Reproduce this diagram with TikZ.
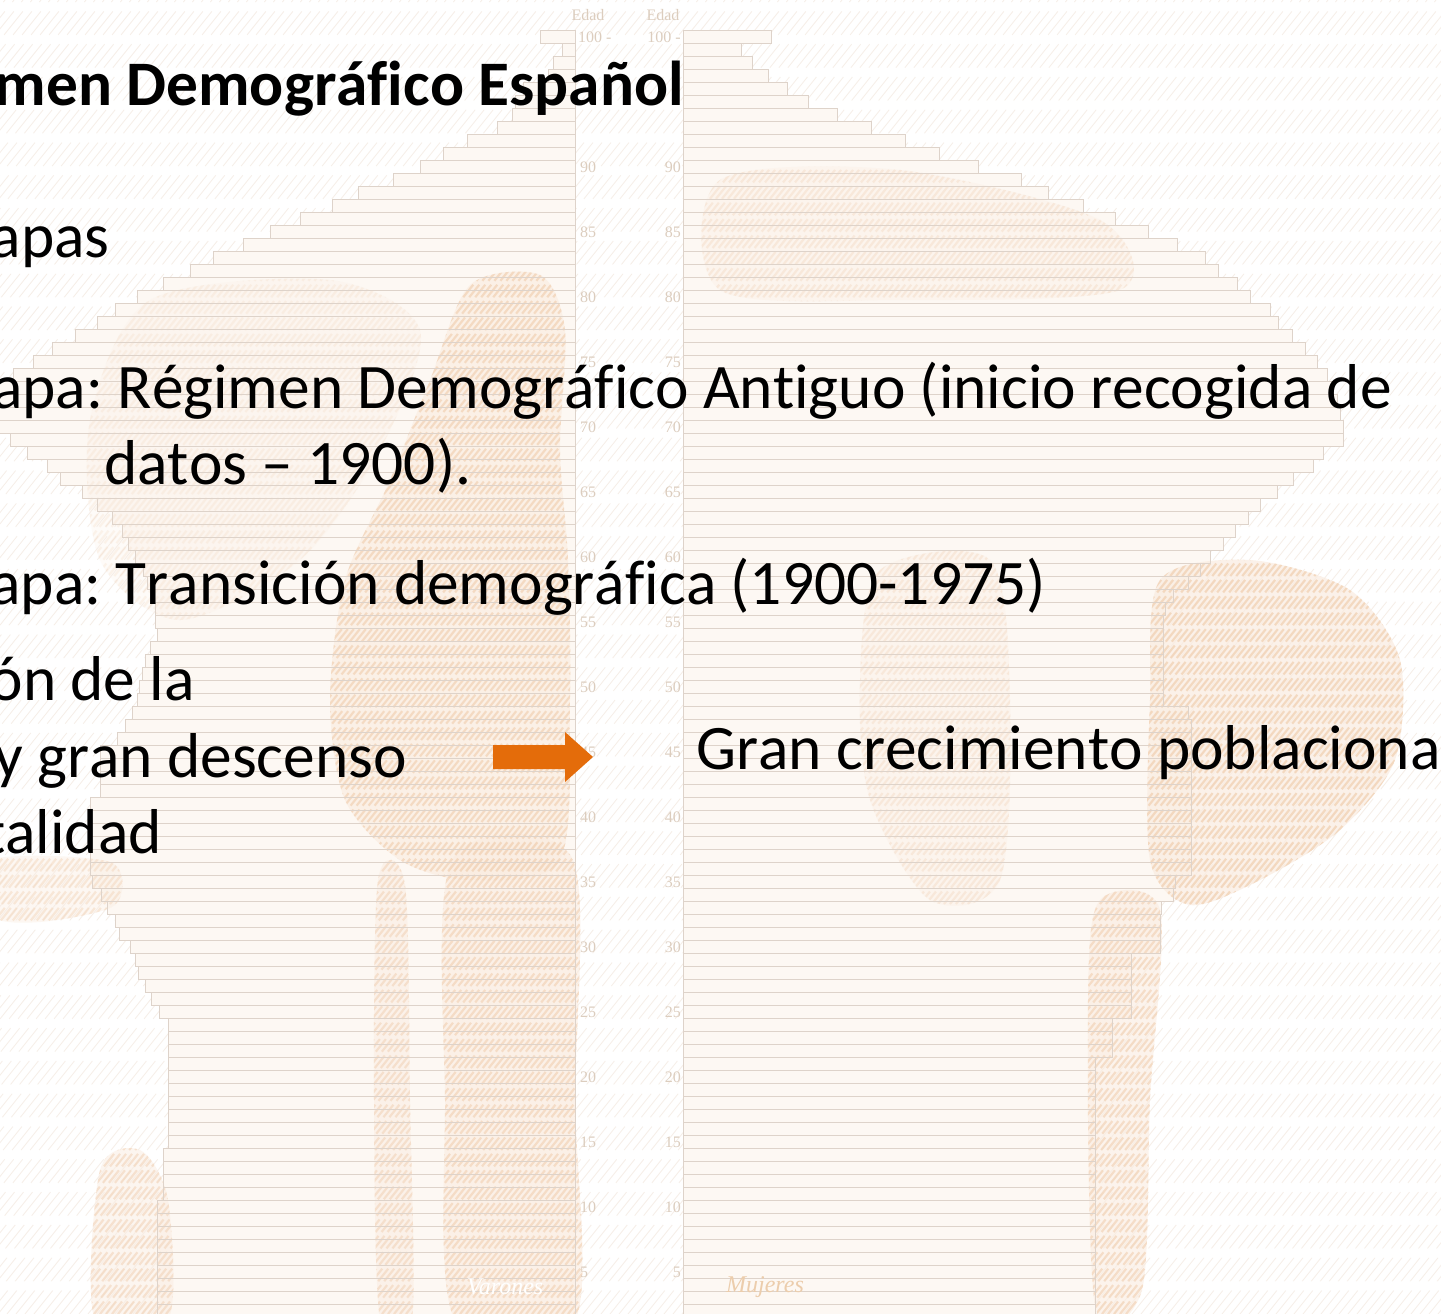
\documentclass[tikz,border=0pt]{standalone}
\usepackage{fontspec}
\setmainfont{Carlito}[Ligatures=NoCommon, Kerning=Off]
\newfontfamily\lblfont{Liberation Serif}
\frenchspacing
\definecolor{arroworange}{RGB}{228,108,10}
\definecolor{barline}{RGB}{222,211,202}
\definecolor{barfill}{RGB}{253,248,243}
\definecolor{hatchbg}{RGB}{246,238,231}
\definecolor{blobfill}{RGB}{250,236,224}
\definecolor{blobhatch}{RGB}{241,207,176}
\definecolor{lblcol}{RGB}{220,205,190}
\definecolor{mujcol}{RGB}{236,205,172}
\newcommand{\myblob}[2]{%
  \begin{scope}
    \fill[blobfill, opacity=#2] #1;
    \clip #1;
    \foreach \hx in {-1100,-1094,...,1441}
      \draw[blobhatch, line width=2.2, dash pattern=on 16pt off 5pt, opacity=#2] (\hx,1314) -- ++(1051,-1314);
  \end{scope}}
\def\barlist{0/35/88, 1/13/58, 2/22/69, 3/27/85, 4/52/104, 5/60/125, 6/63/154, 7/78/188,
 8/108/222, 9/132/256, 10/155/295, 11/182/338, 12/217/365, 13/243/400, 14/275/432,
 15/305/465, 16/332/494, 17/362/522, 18/385/535, 19/412/554, 20/438/567, 21/460/587,
 22/478/595, 23/500/609, 24/523/622, 25/542/634, 26/562/644, 27/578/650, 28/588/654,
 29/590/657, 30/582/660, 31/565/660, 32/548/640, 33/528/630, 34/515/610, 35/493/594,
 36/478/577, 37/463/565, 38/453/552, 39/447/540, 40/440/527, 41/432/517, 42/428/505,
 43/424/490, 44/420/482, 45/420/480, 46/418/480, 47/425/480, 48/430/480, 49/433/480,
 50/436/480, 51/438/480, 52/443/505, 53/450/508, 54/458/508, 55/475/508, 56/475/508,
 57/475/508, 58/475/508, 59/485/508, 60/485/508, 61/485/508, 62/485/508, 63/485/508,
 64/485/508, 65/483/492, 66/474/490, 67/468/478, 68/460/477, 69/456/477, 70/445/477,
 71/440/448, 72/437/448, 73/430/448, 74/424/448, 75/416/448, 76/407/429, 77/407/429,
 78/407/429, 79/407/412, 80/407/412, 81/407/412, 82/407/412, 83/407/412, 84/407/412,
 85/407/412, 86/412/412, 87/412/412, 88/412/412, 89/412/412, 90/418/412, 91/418/412,
 92/418/412, 93/418/412, 94/418/412, 95/418/412, 96/418/412, 97/418/412, 98/418/412}
\begin{document}
\begin{tikzpicture}[x=1pt,y=-1pt,
  body/.style={inner sep=0, font=\fontsize{63.4}{75}\selectfont\frenchspacing},
  agelbl/.style={inner sep=0, text=lblcol, font=\lblfont\fontsize{16}{18}\selectfont},
  barbox/.style={draw=barline, line width=0.8}]
\useasboundingbox (0,0) rectangle (1441,1314);
\clip (0,0) rectangle (1441,1314);
\fill[white] (0,0) rectangle (1441,1314);
% background hatching
\foreach \hx in {-1100,-1091,...,1441}
  \draw[hatchbg, line width=0.8, dash pattern=on 30pt off 12pt] (\hx,1314) -- ++(1051,-1314);
% pyramid bar fills
\foreach \k/\wl/\wr in \barlist {
  \fill[barfill] ({575-\wl},{30+13*\k}) rectangle (575,{43+13*\k});
  \fill[barfill] (683,{30+13*\k}) rectangle ({683+\wr},{43+13*\k});
}
% hatched blobs of the background picture
\myblob{plot[smooth cycle] coordinates {(470,285) (540,275) (565,330) (560,450) (568,560) (570,700) (560,860) (470,880) (400,860) (345,800) (330,700) (345,580) (390,480) (430,380)}}{0.65}
\myblob{plot[smooth cycle] coordinates {(452,860) (572,858) (575,1100) (575,1320) (455,1320) (445,1100)}}{0.6}
\myblob{plot[smooth cycle] coordinates {(378,880) (405,885) (410,1100) (412,1320) (380,1320) (374,1100)}}{0.5}
\myblob{plot[smooth cycle] coordinates {(100,1170) (140,1150) (168,1200) (168,1320) (95,1320)}}{0.5}
\myblob{plot[smooth cycle] coordinates {(-10,860) (110,862) (115,905) (40,922) (-10,915)}}{0.4}
\myblob{plot[smooth cycle] coordinates {(1160,580) (1250,560) (1350,590) (1400,660) (1395,760) (1340,830) (1260,880) (1190,905) (1150,860) (1150,700)}}{0.7}
\myblob{plot[smooth cycle] coordinates {(1100,900) (1160,910) (1150,1100) (1142,1290) (1095,1305) (1088,1000)}}{0.6}
\myblob{plot[smooth cycle] coordinates {(880,570) (990,560) (1010,700) (1000,880) (930,900) (870,800) (860,680)}}{0.3}
\myblob{plot[smooth cycle] coordinates {(720,180) (900,170) (1100,220) (1120,290) (900,300) (720,290)}}{0.3}
\myblob{plot[smooth cycle] coordinates {(150,300) (330,280) (420,330) (380,450) (300,560) (180,620) (100,560) (90,420)}}{0.2}
% pyramid bar outlines
\foreach \k/\wl/\wr in \barlist {
  \draw[barbox] ({575-\wl},{30+13*\k}) rectangle (575,{43+13*\k});
  \draw[barbox] (683,{30+13*\k}) rectangle ({683+\wr},{43+13*\k});
}
\draw[barbox] (575,30) -- (575,1314);
\draw[barbox] (683,30) -- (683,1314);
% age axis labels
\node[agelbl, anchor=center] (edadL) at (588,15) {Edad};
\node[agelbl, anchor=center] (edadR) at (663,15) {Edad};
\node[agelbl, anchor=west] (cienL) at (578,37) {100 -};
\node[agelbl, anchor=east] (cienR) at (681,37) {100 -};
\foreach \a in {5,10,...,90} {
  \node[agelbl, anchor=west] (ageL\a) at (580,{1337-13*\a}) {\a};
  \node[agelbl, anchor=east] (ageR\a) at (681,{1337-13*\a}) {\a};
}
\node[inner sep=0, text=mujcol, font=\lblfont\itshape\fontsize{24}{26}\selectfont] (muj) at (765,1287) {Mujeres};
\node[inner sep=0, text=white, font=\lblfont\itshape\fontsize{24}{26}\selectfont] (var) at (505,1287) {Varones};
% slide texts
\node[body, anchor=base east] (title) at (684,106) {\bfseries men Demográfico Español};
\node[body, anchor=base east] (etapas) at (110,257) {apas};
\node[body, anchor=base east] (e1a) at (1392,408) {apa:\ Régimen Demográfico Antiguo (inicio recogida de};
\node[body, anchor=base west] (e1b) at (104,484) {datos – 1900).};
\node[body, anchor=base east] (e2) at (1046,604) {apa:\ Transición demográfica (1900-1975)};
\node[body, anchor=base east] (c1) at (195,700) {ón de la};
\node[body, anchor=base east] (c2) at (407,777) {y gran descenso};
\node[body, anchor=base east] (c3) at (162,853) {talidad};
\node[body, anchor=base west] (gran) at (696,769) {Gran crecimiento poblaciona};
% orange block arrow
\fill[arroworange] (493,745) -- (565,745) -- (565,732) -- (593,757) -- (565,782) -- (565,769) -- (493,769) -- cycle;
\end{tikzpicture}
\end{document}
